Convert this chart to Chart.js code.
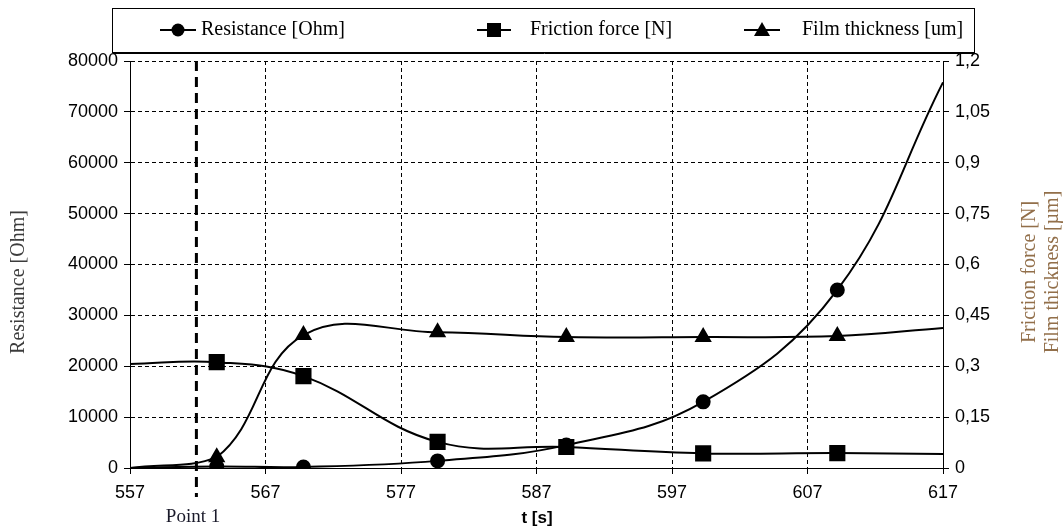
<!DOCTYPE html>
<html>
<head>
<meta charset="utf-8">
<script src="https://cdn.jsdelivr.net/npm/chart.js@4.4.0/dist/chart.umd.min.js"></script>
<style>
  body { margin: 0; background: #fff; }
  canvas { display: block; }
</style>
</head>
<body>
<canvas id="film-chart" width="1064" height="528"></canvas>
<script>
const timeValues = [557, 563.4, 569.8, 579.7, 589.2, 599.3, 609.2, 617];
const resistanceValues = [0, 300, 200, 1400, 4500, 13000, 35000, 75800];
const frictionValues = [0.307, 0.312, 0.271, 0.077, 0.062, 0.043, 0.044, 0.041];
const filmValues = [0, 0.032, 0.392, 0.4, 0.386, 0.386, 0.389, 0.413];
const markerShown = [false, true, true, true, true, true, true, false];
const seriesLabels = ["Resistance [Ohm]", "Friction force [N]", "Film thickness [um]"];
const xTicks = [557, 567, 577, 587, 597, 607, 617];
const pointOne = 561.9;

const chartCanvas = document.querySelector("#film-chart");

function toPoints(values) {
  return timeValues.map((t, i) => ({ x: t, y: values[i] }));
}

function markerSizes(r) {
  return markerShown.map((shown) => (shown ? r : 0));
}

const serif = "'Liberation Serif', 'Times New Roman', serif";

// legend box, titles and the Point 1 marker line
const extrasPlugin = {
  id: "extras",
  beforeDatasetsDraw(chart) {
    const ctx = chart.ctx;
    const x = chart.scales.x.getPixelForValue(pointOne);
    ctx.save();
    ctx.strokeStyle = "#000";
    ctx.lineWidth = 3;
    ctx.setLineDash([10, 6]);
    ctx.beginPath();
    ctx.moveTo(x, chart.chartArea.top);
    ctx.lineTo(x, 497);
    ctx.stroke();
    ctx.restore();
  },
  afterDraw(chart) {
    const ctx = chart.ctx;
    ctx.save();

    // legend frame
    ctx.strokeStyle = "#000";
    ctx.lineWidth = 1;
    ctx.strokeRect(112.5, 8.5, 862, 44);
    ctx.beginPath();
    ctx.moveTo(113, 53.5);
    ctx.lineTo(976, 53.5);
    ctx.stroke();

    const items = [
      { x1: 160, x2: 196, tx: 201 },
      { x1: 477, x2: 511, tx: 530 },
      { x1: 744, x2: 780, tx: 802 },
    ];
    ctx.font = "20px " + serif;
    ctx.textBaseline = "middle";
    chart.data.datasets.forEach((ds, i) => {
      const it = items[i];
      const y = 30;
      ctx.strokeStyle = "#000";
      ctx.lineWidth = 2;
      ctx.beginPath();
      ctx.moveTo(it.x1, y);
      ctx.lineTo(it.x2, y);
      ctx.stroke();
      drawMarker(ctx, ds.pointStyle, (it.x1 + it.x2) / 2, y);
      ctx.fillStyle = "#000";
      ctx.textAlign = "left";
      ctx.fillText(seriesLabels[i], it.tx, y);
    });

    // axis titles
    ctx.textAlign = "center";
    ctx.fillStyle = "#3c3c3c";
    ctx.save();
    ctx.translate(19, 282);
    ctx.rotate(-Math.PI / 2);
    ctx.fillText("Resistance [Ohm]", 0, 0);
    ctx.restore();

    ctx.fillStyle = "#926f4a";
    ctx.save();
    ctx.translate(1030, 272);
    ctx.rotate(-Math.PI / 2);
    ctx.fillText("Friction force [N]", 0, 0);
    ctx.fillText("Film thickness [\u00b5m]", 0, 23);
    ctx.restore();

    ctx.fillStyle = "#1a1a2a";
    ctx.font = "19px " + serif;
    ctx.fillText("Point 1", 193, 517);

    ctx.fillStyle = "#000";
    ctx.font = "bold 17px 'Liberation Sans', Arial, sans-serif";
    ctx.fillText("t [s]", 537, 518);

    ctx.restore();
  },
};

function drawMarker(ctx, style, x, y) {
  ctx.fillStyle = "#000";
  ctx.beginPath();
  if (style === "circle") {
    ctx.arc(x, y, 6.5, 0, Math.PI * 2);
  } else if (style === "rect") {
    ctx.rect(x - 7, y - 7, 14, 14);
  } else {
    ctx.moveTo(x, y - 8);
    ctx.lineTo(x + 8, y + 6);
    ctx.lineTo(x - 8, y + 6);
    ctx.closePath();
  }
  ctx.fill();
}

const tickFont = { family: "'Liberation Sans', Arial, sans-serif", size: 18 };

new Chart(chartCanvas, {
  type: "line",
  data: {
    datasets: [
      {
        label: seriesLabels[0],
        data: toPoints(resistanceValues),
        yAxisID: "y",
        borderColor: "#000",
        backgroundColor: "#000",
        borderWidth: 2,
        pointStyle: "circle",
        pointRadius: markerSizes(6.5),
        tension: 0.4,
      },
      {
        label: seriesLabels[1],
        data: toPoints(frictionValues),
        yAxisID: "y1",
        borderColor: "#000",
        backgroundColor: "#000",
        borderWidth: 2,
        pointStyle: "rect",
        pointRadius: markerSizes(10),
        tension: 0.4,
      },
      {
        label: seriesLabels[2],
        data: toPoints(filmValues),
        yAxisID: "y1",
        borderColor: "#000",
        backgroundColor: "#000",
        borderWidth: 2,
        pointStyle: "triangle",
        pointRadius: markerSizes(8),
        tension: 0.4,
      },
    ],
  },
  options: {
    responsive: false,
    animation: false,
    layout: { padding: { top: 61 } },
    plugins: {
      legend: { display: false },
      tooltip: { enabled: false },
    },
    scales: {
      x: {
        type: "linear",
        min: 557,
        max: 617,
        afterBuildTicks: (scale) => {
          scale.ticks = xTicks.map((v) => ({ value: v }));
        },
        afterFit: (scale) => {
          scale.height = 60;
        },
        grid: { color: "#000", lineWidth: 1, tickLength: 6 },
        border: { color: "#000", width: 1, dash: [4, 3] },
        ticks: { color: "#000", font: tickFont, padding: 8, maxRotation: 0, callback: (v) => String(v) },
      },
      y: {
        position: "left",
        min: 0,
        max: 80000,
        afterFit: (scale) => {
          scale.width = 130;
        },
        grid: { color: "#000", lineWidth: 1, tickLength: 6 },
        border: { color: "#000", width: 1, dash: [4, 3] },
        ticks: { color: "#000", font: tickFont, padding: 6, stepSize: 10000, callback: (v) => String(v) },
      },
      y1: {
        position: "right",
        min: 0,
        max: 1.2,
        afterFit: (scale) => {
          scale.width = 121;
        },
        grid: { drawOnChartArea: false, color: "#000", tickLength: 6 },
        border: { color: "#000", width: 1 },
        ticks: {
          color: "#000",
          font: tickFont,
          padding: 6,
          stepSize: 0.15,
          callback: (v) => String(Math.round(v * 100) / 100).replace(".", ","),
        },
      },
    },
  },
  plugins: [extrasPlugin],
});
</script>
</body>
</html>
